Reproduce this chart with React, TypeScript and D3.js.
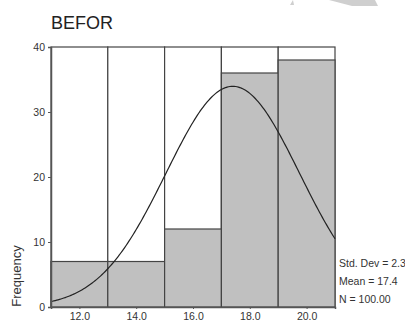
import React, { useEffect, useRef } from "react";
import * as d3 from "d3";

// histogram bins (centre values) and their counts
const binCentres = [12, 14, 16, 18, 20];
const binCounts = [7, 7, 12, 36, 38];
const binWidth = 2;

// summary stats shown at the right
const meanValue = 17.4;
const stdDev = 2.35;
const nValue = 100;

const yTicks = [0, 10, 20, 30, 40];
const xTicks = [12, 14, 16, 18, 20];

const App = () => {
  const ref = useRef<SVGSVGElement | null>(null);

  useEffect(() => {
    const width = 405;
    const height = 320;
    const font = "Liberation Sans, Arial, sans-serif";
    const svg = d3.select(ref.current);
    svg.selectAll("*").remove();

    const xScale = d3.scaleLinear().domain([11, 21]).range([51, 335]);
    const yScale = d3.scaleLinear().domain([0, 40]).range([307, 47]);

    // faint watermark at top
    svg.append("path")
      .attr("d", "M329,0 L375,0 L378,6 L352,6 Z")
      .attr("fill", "#cfcfcf");
    svg.append("path")
      .attr("d", "M290,5 L293,0 L294,5 Z")
      .attr("fill", "#cfcfcf");

    // title
    svg.append("text")
      .attr("x", 51)
      .attr("y", 29)
      .attr("font-family", font)
      .attr("font-size", 18)
      .attr("fill", "#222")
      .text("BEFOR");

    const g = svg.append("g");

    // full-height column outlines
    g.selectAll("rect.col").data(binCentres).join("rect")
      .attr("class", "col")
      .attr("x", d => xScale(d - binWidth / 2))
      .attr("y", yScale(40))
      .attr("width", d => xScale(d + binWidth / 2) - xScale(d - binWidth / 2))
      .attr("height", yScale(0) - yScale(40))
      .attr("fill", "#fff")
      .attr("stroke", "#444")
      .attr("stroke-width", 1.2);

    // bars
    g.selectAll("rect.bar").data(binCentres).join("rect")
      .attr("class", "bar")
      .attr("x", d => xScale(d - binWidth / 2))
      .attr("y", (d, i) => yScale(binCounts[i]))
      .attr("width", d => xScale(d + binWidth / 2) - xScale(d - binWidth / 2))
      .attr("height", (d, i) => yScale(0) - yScale(binCounts[i]))
      .attr("fill", "#c0c0c0")
      .attr("stroke", "#444")
      .attr("stroke-width", 1.2);

    // normal curve
    const curveX = d3.range(11, 21.001, 0.05);
    const norm = (x: number) =>
      (nValue * binWidth) / (stdDev * Math.sqrt(2 * Math.PI)) *
      Math.exp(-0.5 * Math.pow((x - meanValue) / stdDev, 2));
    const line = d3.line<number>()
      .x(d => xScale(d))
      .y(d => yScale(norm(d)));
    g.append("path")
      .attr("d", line(curveX))
      .attr("fill", "none")
      .attr("stroke", "#222")
      .attr("stroke-width", 1.2);

    // y axis
    const yAxis = svg.append("g")
      .attr("transform", `translate(51,0)`)
      .call(d3.axisLeft(yScale).tickValues(yTicks).tickSize(3).tickPadding(3).tickFormat(d => String(d)));
    yAxis.select(".domain").attr("stroke", "#555").attr("stroke-width", 1.5);
    yAxis.selectAll("line").attr("stroke", "#555");
    yAxis.selectAll("text")
      .attr("font-family", font)
      .attr("font-size", 10.5)
      .attr("fill", "#333");

    // x axis
    const xAxis = svg.append("g")
      .attr("transform", `translate(0,307)`)
      .call(d3.axisBottom(xScale).tickValues(xTicks).tickSize(2).tickPadding(4).tickFormat(d3.format(".1f")));
    xAxis.select(".domain").attr("stroke", "#555").attr("stroke-width", 1.5);
    xAxis.selectAll("line").attr("stroke", "#555");
    xAxis.selectAll("text")
      .attr("font-family", font)
      .attr("font-size", 10.5)
      .attr("fill", "#333");

    // y axis title
    svg.append("text")
      .attr("transform", "translate(21,276) rotate(-90)")
      .attr("text-anchor", "middle")
      .attr("font-family", font)
      .attr("font-size", 13)
      .attr("fill", "#333")
      .text("Frequency");

    // stats box
    const stats = [`Std. Dev = ${stdDev.toFixed(2)}`, `Mean = ${meanValue.toFixed(1)}`, `N = ${nValue.toFixed(2)}`];
    svg.selectAll("text.stat").data(stats).join("text")
      .attr("class", "stat")
      .attr("x", 339)
      .attr("y", (d, i) => 267 + i * 18)
      .attr("font-family", font)
      .attr("font-size", 10.5)
      .attr("fill", "#333")
      .text(d => d);

    svg.attr("width", width).attr("height", height);
  }, []);

  return (
    <svg
      ref={ref}
      width={405}
      height={320}
      style={{ position: "absolute", left: 0, top: 0, background: "#fff" }}
    />
  );
};

export default App;
